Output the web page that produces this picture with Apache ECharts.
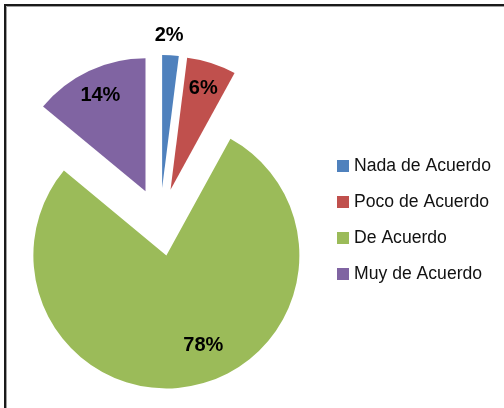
<!DOCTYPE html>
<html>
<head>
<meta charset="utf-8">
<script src="https://cdn.jsdelivr.net/npm/echarts@6/dist/echarts.min.js"></script>
<style>
  html, body { margin: 0; padding: 0; background: #fff; overflow: hidden; }
  #chart { width: 504px; height: 408px; }
</style>
</head>
<body>
<div id="chart"></div>
<script>
// answers and their shares (percent)
const categories = ['Nada de Acuerdo', 'Poco de Acuerdo', 'De Acuerdo', 'Muy de Acuerdo'];
const values = [2, 6, 78, 14];
const colors = ['#4F81BD', '#C0504D', '#9BBB59', '#8064A2'];

const RADIUS = 133;
const EXPLODE = 34;

// bisector angle of each slice, degrees clockwise from 12 o'clock
const total = values.reduce((a, b) => a + b, 0);
let acc = 0;
const midAngles = values.map(v => {
  const a = (acc + v / 2) / total * 360;
  acc += v;
  return a;
});

const chart = echarts.init(document.getElementById('chart'));

chart.setOption({
  animation: false,
  backgroundColor: '#fff',
  // chart frame: only its top and left edges fall inside the picture
  graphic: [
    { type: 'polyline', silent: true,
      shape: { points: [[5, 420], [5, 5], [520, 5]] },
      style: { stroke: '#1a1a1a', lineWidth: 2, fill: null } },
    { type: 'polyline', silent: true,
      shape: { points: [[6.5, 420], [6.5, 6.5], [520, 6.5]] },
      style: { stroke: '#a0a0a0', lineWidth: 1, fill: null } }
  ],
  legend: {
    orient: 'vertical',
    left: 337,
    top: 157,
    padding: 0,
    itemWidth: 12,
    itemHeight: 12,
    itemGap: 18,
    icon: 'rect',
    selectedMode: false,
    textStyle: { fontFamily: 'Liberation Sans', fontSize: 17.6, color: '#111' },
    data: categories
  },
  series: [{
    type: 'pie',
    center: [160, 222],
    radius: RADIUS,
    startAngle: 90,
    clockwise: true,
    selectedMode: 'multiple',
    selectedOffset: EXPLODE,
    avoidLabelOverlap: false,
    emphasis: { disabled: true },
    label: {
      position: 'inside',
      formatter: '{c}%',
      fontFamily: 'Liberation Sans',
      fontWeight: 'bold',
      fontSize: 20,
      color: '#000'
    },
    labelLine: { show: false },
    // move the inside labels out along the slice (Excel "best fit" look)
    labelLayout: function (params) {
      const i = params.dataIndex;
      const base = RADIUS / 2;
      const target = i === 0 ? 150 : (i === 2 ? 94 : 103);
      const shift = i === 2 ? -12 : (i === 0 ? -1 : 0);
      const ang = (midAngles[i] + shift) * Math.PI / 180;
      const a0 = midAngles[i] * Math.PI / 180;
      return {
        dx: target * Math.sin(ang) - base * Math.sin(a0),
        dy: -target * Math.cos(ang) + base * Math.cos(a0)
      };
    },
    data: categories.map((name, i) => ({
      name: name,
      value: values[i],
      selected: true,
      itemStyle: { color: colors[i] }
    }))
  }]
});
</script>
</body>
</html>
